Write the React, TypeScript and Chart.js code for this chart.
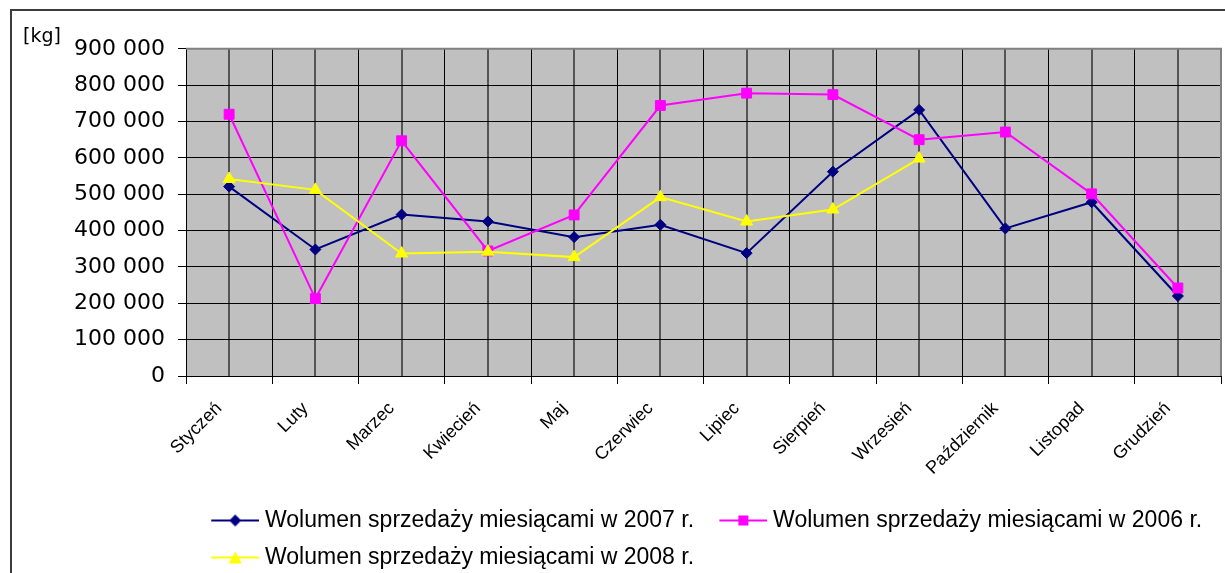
import React, { useEffect, useRef } from 'react';
import { Chart, registerables } from 'chart.js';

Chart.register(...registerables);

const months = ['Styczeń', 'Luty', 'Marzec', 'Kwiecień', 'Maj', 'Czerwiec', 'Lipiec', 'Sierpień', 'Wrzesień', 'Październik', 'Listopad', 'Grudzień'];
const values2007 = [521000, 348000, 444000, 425000, 382000, 416000, 338000, 562000, 732000, 406000, 478000, 220000];
const values2006 = [720000, 213000, 647000, 344000, 443000, 744000, 778000, 774000, 650000, 671000, 501000, 242000];
const values2008 = [542000, 512000, 337000, 342000, 327000, 492000, 425000, 458000, 598000];
const yTickLabels = ['0', '100 000', '200 000', '300 000', '400 000', '500 000', '600 000', '700 000', '800 000', '900 000'];
const seriesNames = [
  'Wolumen sprzedaży miesiącami w 2007 r.',
  'Wolumen sprzedaży miesiącami w 2006 r.',
  'Wolumen sprzedaży miesiącami w 2008 r.',
];
const unitLabel = '[kg]';

const COLORS = ['#000080', '#ff00ff', '#ffff00'];
const SHAPES = ['diamond', 'square', 'triangle'];

function makeLegendIcon(color: string, shape: string) {
  const c = document.createElement('canvas');
  c.width = 65;
  c.height = 16;
  const g = c.getContext('2d')!;
  g.strokeStyle = color;
  g.lineWidth = 2;
  g.beginPath();
  g.moveTo(17, 8);
  g.lineTo(65, 8);
  g.stroke();
  g.fillStyle = color;
  const cx = 41;
  const cy = 8;
  g.beginPath();
  if (shape === 'diamond') {
    g.moveTo(cx, cy - 6);
    g.lineTo(cx + 6, cy);
    g.lineTo(cx, cy + 6);
    g.lineTo(cx - 6, cy);
  } else if (shape === 'square') {
    g.rect(cx - 5, cy - 5, 10, 10);
  } else {
    g.moveTo(cx, cy - 6);
    g.lineTo(cx + 6.5, cy + 6);
    g.lineTo(cx - 6.5, cy + 6);
  }
  g.closePath();
  g.fill();
  return c;
}

const plotDecor = {
  id: 'plotDecor',
  beforeDraw(chart: any) {
    const { ctx, chartArea: a } = chart;
    ctx.save();
    ctx.fillStyle = '#c0c0c0';
    ctx.fillRect(a.left, a.top, a.right - a.left, a.bottom - a.top);
    ctx.restore();
  },
  beforeDatasetsDraw(chart: any) {
    const { ctx, chartArea: a } = chart;
    ctx.save();
    ctx.strokeStyle = '#808080';
    ctx.lineWidth = 2;
    ctx.beginPath();
    ctx.moveTo(a.left, a.top);
    ctx.lineTo(a.right, a.top);
    ctx.lineTo(a.right, a.bottom);
    ctx.stroke();
    ctx.restore();
  },
};

export default function App() {
  const ref = useRef<HTMLCanvasElement>(null);

  useEffect(() => {
    if (!ref.current) return;
    const series = [values2007, values2006, values2008];
    const icons = COLORS.map((c, i) => makeLegendIcon(c, SHAPES[i]));
    const pointStyles = ['rectRot', 'rect', 'triangle'];
    const radii = [5.5, 7, 7];
    const orders = [2, 1, 0];

    const chart = new Chart(ref.current, {
      type: 'line',
      data: {
        datasets: series.map((vals, i) => ({
          label: seriesNames[i],
          data: vals.map((v, j) => ({ x: j, y: v })),
          borderColor: COLORS[i],
          backgroundColor: COLORS[i],
          pointBackgroundColor: COLORS[i],
          pointBorderColor: COLORS[i],
          borderWidth: 2,
          pointStyle: pointStyles[i],
          pointRadius: radii[i],
          pointBorderWidth: 1,
          order: orders[i],
          tension: 0,
        })),
      },
      options: {
        responsive: false,
        animation: false,
        events: [],
        layout: { padding: { left: 23, right: 1, top: 12, bottom: 1 } },
        plugins: {
          tooltip: { enabled: false },
          title: {
            display: true,
            text: unitLabel,
            align: 'start',
            color: '#000',
            font: { family: 'DejaVu Sans', size: 19, weight: 'normal' },
            padding: { top: 14, bottom: 0 },
          },
          legend: {
            position: 'bottom',
            align: 'start',
            fullSize: false,
            labels: {
              usePointStyle: true,
              pointStyleWidth: 53.5,
              padding: 14,
              color: '#000',
              font: { family: 'Liberation Sans', size: 23 },
              generateLabels: () =>
                seriesNames.map((name, i) => ({
                  text: name,
                  datasetIndex: i,
                  fillStyle: COLORS[i],
                  strokeStyle: COLORS[i],
                  lineWidth: 0,
                  hidden: false,
                  pointStyle: icons[i],
                  fontColor: '#000',
                })),
            },
          },
        },
        scales: {
          x: {
            type: 'linear',
            min: -0.5,
            max: 11.5,
            afterFit: (s: any) => {
              s.height = 119;
              s.paddingLeft = 0;
              s.paddingRight = 0;
            },
            ticks: {
              stepSize: 0.5,
              autoSkip: false,
              maxRotation: 45,
              minRotation: 45,
              padding: 14,
              labelOffset: -10,
              color: '#000',
              font: { family: 'Liberation Sans', size: 18 },
              callback: (value: any) => (Number.isInteger(value) ? months[value] : ''),
            },
            grid: {
              color: (ctx: any) => (ctx.tick && Number.isInteger(ctx.tick.value) ? '#555555' : '#000000'),
              lineWidth: (ctx: any) => (ctx.tick && Number.isInteger(ctx.tick.value) ? 2 : 1),
              tickColor: (ctx: any) => (ctx.tick && Number.isInteger(ctx.tick.value) ? 'rgba(0,0,0,0)' : '#000000'),
              tickWidth: 1,
              tickLength: 8,
            },
            border: { display: true, color: '#000', width: 1 },
          },
          y: {
            type: 'linear',
            min: 0,
            max: 900000,
            afterFit: (s: any) => {
              s.width = 163;
              s.paddingLeft = 0;
              s.paddingRight = 0;
            },
            ticks: {
              stepSize: 100000,
              padding: 13,
              color: '#000',
              font: { family: 'DejaVu Sans', size: 22 },
              callback: (_v: any, i: number) => yTickLabels[i],
            },
            grid: {
              color: '#000',
              lineWidth: 1,
              tickLength: 8,
              tickColor: '#000',
            },
            border: { display: true, color: '#000', width: 1 },
          },
        },
      },
      plugins: [plotDecor],
    } as any);

    return () => chart.destroy();
  }, []);

  return (
    <div style={{ position: 'fixed', left: 0, top: 0, width: 1225, height: 573, overflow: 'hidden', background: '#fff' }}>
      <div
        style={{
          position: 'absolute',
          left: 10,
          top: 9,
          width: 1300,
          height: 700,
          borderLeft: '2px solid #3c3c3c',
          borderTop: '2px solid #3c3c3c',
        }}
      />
      <canvas ref={ref} width={1229} height={580} style={{ position: 'absolute', left: 0, top: 0 }} />
    </div>
  );
}
